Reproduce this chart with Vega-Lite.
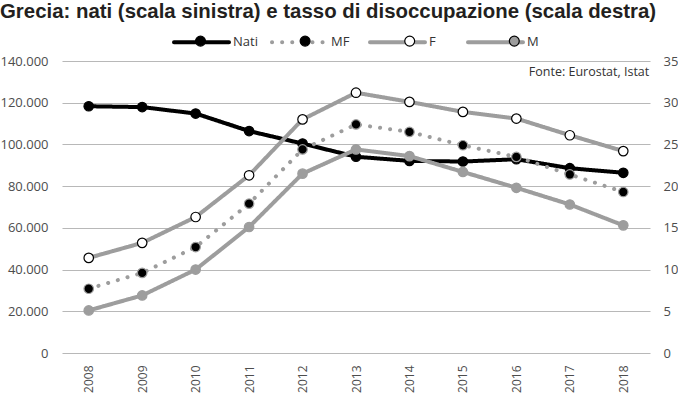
{
  "$schema": "https://vega.github.io/schema/vega-lite/v6.json",
  "width": 588,
  "height": 292,
  "autosize": {"type": "none"},
  "padding": {"left": 62, "top": 61, "right": 28, "bottom": 44},
  "background": "white",
  "config": {
    "locale": {"number": {"decimal": ",", "thousands": ".", "grouping": [3], "currency": ["€", ""]}},
    "view": {"stroke": null},
    "font": "Open Sans"
  },
  "title": {
    "text": "Grecia: nati (scala sinistra) e tasso di disoccupazione (scala destra)",
    "anchor": "start",
    "frame": "group",
    "dx": -62,
    "offset": -10,
    "fontSize": 20.4,
    "fontWeight": "bold",
    "font": "Liberation Sans",
    "color": "#231f20"
  },
  "datasets": {
    "d": [
      {"anno": "2008", "serie": "Nati", "valore": 118300},
      {"anno": "2009", "serie": "Nati", "valore": 117900},
      {"anno": "2010", "serie": "Nati", "valore": 114800},
      {"anno": "2011", "serie": "Nati", "valore": 106400},
      {"anno": "2012", "serie": "Nati", "valore": 100400},
      {"anno": "2013", "serie": "Nati", "valore": 94100},
      {"anno": "2014", "serie": "Nati", "valore": 92100},
      {"anno": "2015", "serie": "Nati", "valore": 91800},
      {"anno": "2016", "serie": "Nati", "valore": 92900},
      {"anno": "2017", "serie": "Nati", "valore": 88600},
      {"anno": "2018", "serie": "Nati", "valore": 86400},
      {"anno": "2008", "serie": "MF", "valore": 7.7},
      {"anno": "2009", "serie": "MF", "valore": 9.6},
      {"anno": "2010", "serie": "MF", "valore": 12.7},
      {"anno": "2011", "serie": "MF", "valore": 17.9},
      {"anno": "2012", "serie": "MF", "valore": 24.4},
      {"anno": "2013", "serie": "MF", "valore": 27.4},
      {"anno": "2014", "serie": "MF", "valore": 26.5},
      {"anno": "2015", "serie": "MF", "valore": 24.9},
      {"anno": "2016", "serie": "MF", "valore": 23.5},
      {"anno": "2017", "serie": "MF", "valore": 21.4},
      {"anno": "2018", "serie": "MF", "valore": 19.3},
      {"anno": "2008", "serie": "F", "valore": 11.4},
      {"anno": "2009", "serie": "F", "valore": 13.2},
      {"anno": "2010", "serie": "F", "valore": 16.3},
      {"anno": "2011", "serie": "F", "valore": 21.3},
      {"anno": "2012", "serie": "F", "valore": 28.0},
      {"anno": "2013", "serie": "F", "valore": 31.2},
      {"anno": "2014", "serie": "F", "valore": 30.1},
      {"anno": "2015", "serie": "F", "valore": 28.9},
      {"anno": "2016", "serie": "F", "valore": 28.1},
      {"anno": "2017", "serie": "F", "valore": 26.1},
      {"anno": "2018", "serie": "F", "valore": 24.2},
      {"anno": "2008", "serie": "M", "valore": 5.1},
      {"anno": "2009", "serie": "M", "valore": 6.9},
      {"anno": "2010", "serie": "M", "valore": 10.0},
      {"anno": "2011", "serie": "M", "valore": 15.1},
      {"anno": "2012", "serie": "M", "valore": 21.5},
      {"anno": "2013", "serie": "M", "valore": 24.4},
      {"anno": "2014", "serie": "M", "valore": 23.6},
      {"anno": "2015", "serie": "M", "valore": 21.7},
      {"anno": "2016", "serie": "M", "valore": 19.8},
      {"anno": "2017", "serie": "M", "valore": 17.8},
      {"anno": "2018", "serie": "M", "valore": 15.3}
    ],
    "fonte": [{"testo": "Fonte: Eurostat, Istat", "anno": "2018", "valore": 35}]
  },
  "layer": [
    {
      "data": {"name": "d"},
      "transform": [{"filter": "datum.serie == 'Nati'"}],
      "encoding": {
        "x": {
          "field": "anno", "type": "ordinal",
          "scale": {"type": "point", "padding": 0.5},
          "axis": {
            "title": null, "labelAngle": -90, "domain": false, "ticks": false,
            "labelPadding": 12, "labelFontSize": 12, "labelColor": "#4d4d4d", "grid": false
          }
        },
        "y": {
          "field": "valore", "type": "quantitative",
          "scale": {"domain": [0, 140000]},
          "axis": {
            "orient": "left", "title": null, "values": [0, 20000, 40000, 60000, 80000, 100000, 120000, 140000],
            "format": ",.0f", "domain": false, "ticks": false, "labelPadding": 14,
            "labelFontSize": 13, "labelColor": "#4d4d4d",
            "grid": true, "gridColor": "#b8b8b8", "gridWidth": 1.2
          }
        }
      },
      "layer": [
        {
          "mark": {"type": "line", "strokeWidth": 4, "strokeCap": "round", "strokeJoin": "round"},
          "encoding": {
            "color": {
              "field": "serie", "type": "nominal",
              "scale": {"domain": ["Nati", "MF", "F", "M"], "range": ["#000000", "#9d9d9d", "#9d9d9d", "#9d9d9d"]},
              "legend": {
                "title": null, "orient": "none", "legendX": 110, "legendY": -48.5, "direction": "horizontal",
                "symbolType": "M-1,0H1M2.4,0", "symbolSize": 3025, "symbolStrokeWidth": 4, "gridAlign": "all",
                "labelFontSize": 13, "labelColor": "#333333", "labelOffset": 2, "columnPadding": 0,
                "encode": {"symbols": {"update": {"strokeCap": {"value": "round"}, "strokeJoin": {"value": "round"}}}}
              }
            },
            "strokeDash": {
              "field": "serie", "type": "nominal",
              "scale": {"domain": ["Nati", "MF", "F", "M"], "range": [[1, 0], [0.1, 10], [1, 0], [1, 0]]},
              "legend": {
                "title": null, "orient": "none", "legendX": 110, "legendY": -48.5, "direction": "horizontal",
                "symbolType": "M-1,0H1M2.4,0", "symbolSize": 3025, "symbolStrokeWidth": 4, "gridAlign": "all",
                "labelFontSize": 13, "labelColor": "#333333", "labelOffset": 2, "columnPadding": 0
              }
            }
          }
        },
        {
          "mark": {"type": "circle", "size": 90, "opacity": 1, "strokeWidth": 1.2},
          "encoding": {
            "fill": {
              "field": "serie", "type": "nominal", "sort": ["Nati", "MF", "F", "M"],
              "scale": {"range": ["#000000", "#000000", "#ffffff", "#9d9d9d"]},
              "legend": {
                "title": null, "orient": "none", "legendX": 110, "legendY": -48.5, "direction": "horizontal",
                "symbolType": "M-1,0M2.4,0M-0.18,0A0.18,0.18,0,1,1,0.18,0A0.18,0.18,0,1,1,-0.18,0Z", "symbolSize": 3025, "symbolStrokeWidth": 1.2,
                "gridAlign": "all", "labelExpr": "''", "labelOffset": 2, "columnPadding": 5.6,
                "encode": {"symbols": {"update": {
                  "stroke": {"signal": "datum.value == 'MF' || datum.value == 'M' ? '#9d9d9d' : '#000000'"},
                  "strokeJoin": {"value": "round"}
                }}}
              }
            },
            "stroke": {
              "condition": {"test": "datum.serie == 'MF' || datum.serie == 'M'", "value": "#9d9d9d"},
              "value": "#000000"
            }
          }
        }
      ]
    },
    {
      "data": {"name": "d"},
      "transform": [{"filter": "datum.serie != 'Nati'"}],
      "encoding": {
        "x": {"field": "anno", "type": "ordinal"},
        "y": {
          "field": "valore", "type": "quantitative",
          "scale": {"domain": [0, 35]},
          "axis": {
            "orient": "right", "title": null, "values": [0, 5, 10, 15, 20, 25, 30, 35],
            "domain": false, "ticks": false, "labelPadding": 13,
            "labelFontSize": 13, "labelColor": "#4d4d4d", "grid": false
          }
        }
      },
      "layer": [
        {
          "mark": {"type": "line", "strokeWidth": 4, "strokeCap": "round", "strokeJoin": "round"},
          "encoding": {
            "color": {"field": "serie", "type": "nominal"},
            "strokeDash": {"field": "serie", "type": "nominal"}
          }
        },
        {
          "mark": {"type": "circle", "size": 90, "opacity": 1, "strokeWidth": 1.2},
          "encoding": {
            "fill": {"field": "serie", "type": "nominal", "sort": ["Nati", "MF", "F", "M"]},
            "stroke": {
              "condition": {"test": "datum.serie == 'MF' || datum.serie == 'M'", "value": "#9d9d9d"},
              "value": "#000000"
            }
          }
        },
        {
          "data": {"name": "fonte"},
          "mark": {"type": "text", "align": "right", "baseline": "top", "dx": 26, "dy": 5, "fontSize": 12.5, "color": "#333333"},
          "encoding": {
            "text": {"field": "testo"},
            "x": {"field": "anno", "type": "ordinal"},
            "y": {"field": "valore", "type": "quantitative"}
          }
        }
      ]
    }
  ],
  "resolve": {"scale": {"y": "independent"}}
}
